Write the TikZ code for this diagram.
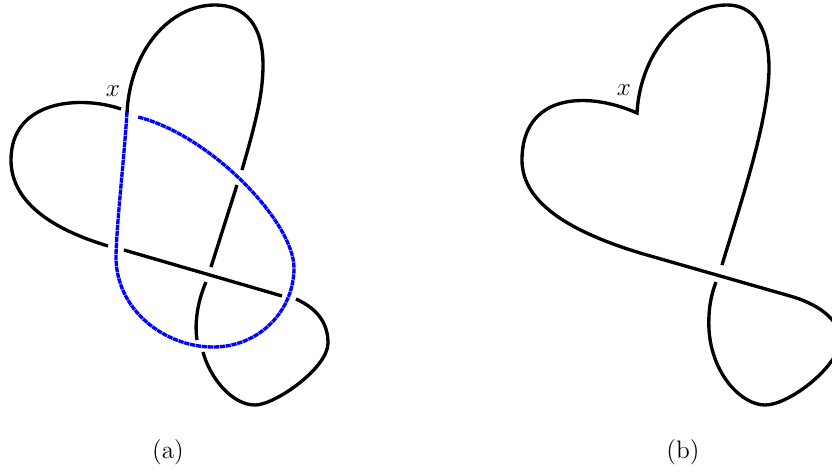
\documentclass[tikz,border=0pt]{standalone}
\begin{document}
\begin{tikzpicture}[x=0.02cm, y=-0.02cm,
    strand/.style={line width=1.9pt, line cap=butt},
    newarc/.style={strand, draw=blue, dash pattern=on 3pt off 0.4pt},
    lbl/.style={font=\Large, inner sep=0pt}
  ]
  \useasboundingbox (0,0) rectangle (832,473);
  \clip (0,0) rectangle (832,473);

  % (a): the knot with the new blue arc
  \draw[strand] (121,109) .. controls (80,95) and (11,100) .. (11,160)
    .. controls (11,205) and (58,231) .. (108,246);
  \draw[strand] (124,250) -- (282,296);
  \draw[strand] (296,299) .. controls (316,308) and (328,322) .. (328,343)
    .. controls (328,368) and (275,405) .. (255,405)
    .. controls (232,405) and (210,378) .. (203,352);
  \draw[strand] (197,340) .. controls (194,320) and (199,298) .. (206,282);
  \draw[strand] (211,267) -- (237,185);
  \draw[strand] (242,170) .. controls (255,125) and (263,95) .. (263,65)
    .. controls (263,25) and (245,5) .. (215,5)
    .. controls (170,5) and (130,50) .. (127,113);
  \draw[newarc] (127,112) .. controls (124,160) and (117,220) .. (116,255)
    .. controls (115,310) and (165,347) .. (213,347)
    .. controls (260,347) and (294,310) .. (294,268)
    .. controls (294,222) and (210,135) .. (138,117);
  \node[lbl] (xa) at (113,91) {$x$};
  \node[lbl] (capa) at (168,452) {(a)};

  % (b): the knot after the move
  \draw[strand, line join=miter] (722,265) .. controls (740,205) and (769,120) .. (769,68)
    .. controls (769,25) and (752,5) .. (727,5)
    .. controls (680,5) and (640,55) .. (637,113)
    .. controls (585,90) and (522,95) .. (522,160)
    .. controls (522,205) and (575,233) .. (640,253)
    -- (790,296)
    .. controls (815,303) and (840,318) .. (840,340)
    .. controls (840,365) and (790,405) .. (765,405)
    .. controls (742,405) and (712,375) .. (709,330)
    .. controls (708,310) and (711,295) .. (716,282);
  \node[lbl] (xb) at (624,90) {$x$};
  \node[lbl] (capb) at (683,452) {(b)};
\end{tikzpicture}
\end{document}
